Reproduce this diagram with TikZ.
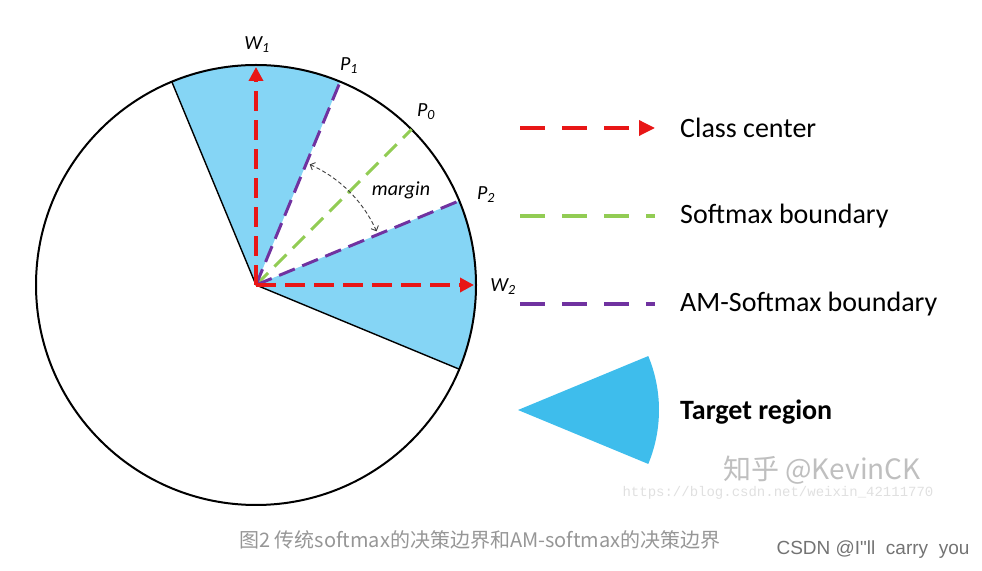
\documentclass[tikz,border=0pt]{standalone}
\usepackage{fontspec}
\setmainfont{Carlito}
\setsansfont{Liberation Sans}
\setmonofont{Liberation Mono}
\newfontfamily\cjk{Noto Sans CJK SC}
\usetikzlibrary{arrows.meta,calc,positioning}
\definecolor{sectorblue}{RGB}{133,213,245}
\definecolor{fanblue}{RGB}{62,189,236}
\definecolor{centerred}{RGB}{232,22,22}
\definecolor{softgreen}{RGB}{146,204,84}
\definecolor{ampurple}{RGB}{112,50,160}
\definecolor{capgray}{RGB}{150,150,150}
\tikzset{
  rim/.style     = {line width=2pt},
  edge/.style    = {line width=1.4pt},
  wvec/.style    = {centerred, line width=3.4pt, dash pattern=on 20pt off 9pt,
                    -{Triangle[length=14pt,width=14pt]}},
  sbound/.style  = {softgreen, line width=3pt, dash pattern=on 17pt off 9pt},
  ambound/.style = {ampurple, line width=3pt, dash pattern=on 17pt off 8pt},
  legline/.style = {line width=3.4pt, dash pattern=on 25pt off 17pt},
  mgarc/.style   = {black!75, line width=0.9pt, dash pattern=on 4pt off 2.5pt,
                    {Straight Barb[length=4pt]}-{Straight Barb[length=4pt]}},
  lbl/.style     = {font=\fontsize{20}{22}\selectfont\itshape, inner sep=1pt},
  legtxt/.style  = {font=\fontsize{28}{32}\selectfont, anchor=west, inner sep=0pt},
}

\begin{document}
\begin{tikzpicture}[x=1pt,y=1pt]
  \useasboundingbox (0,0) rectangle (982,570);
  \coordinate (O) at (256,285);
  \coordinate (a1) at ($(O)+(112.5:220pt)$);
  \coordinate (p1) at ($(O)+(67.5:220pt)$);
  \coordinate (p0) at ($(O)+(45:220pt)$);
  \coordinate (p2) at ($(O)+(22.5:220pt)$);
  \coordinate (a2) at ($(O)+(-22.5:220pt)$);
  \coordinate (w1tip) at ($(O)+(90:218pt)$);
  \coordinate (w2tip) at ($(O)+(0:218pt)$);
  % target regions
  \fill[sectorblue] (O) -- (p1) arc[start angle=67.5, end angle=112.5, radius=220pt] -- cycle;
  \fill[sectorblue] (O) -- (a2) arc[start angle=-22.5, end angle=22.5, radius=220pt] -- cycle;
  \draw[rim] (O) circle[radius=220pt];
  \draw[edge] (O) -- (a1);
  \draw[edge] (O) -- (a2);
  % boundaries
  \draw[sbound] (O) -- (p0);
  \draw[ambound] (O) -- (p1);
  \draw[ambound] (O) -- (p2);
  \draw[wvec] (O) -- (w1tip);
  \draw[wvec] (O) -- (w2tip);
  \draw[mgarc] ($(O)+(66:132pt)$) arc[start angle=66, end angle=24, radius=132pt];
  % labels
  \node[lbl] (w1) at (257,525) {W\textsubscript{1}};
  \node[lbl] (lp1) at (349,504) {P\textsubscript{1}};
  \node[lbl] (lp0) at (426,458) {P\textsubscript{0}};
  \node[lbl] (lp2) at (486,375) {P\textsubscript{2}};
  \node[lbl] (w2) at (503,283) {W\textsubscript{2}};
  \node[lbl] (mg) at (401,380) {margin};
  % legend
  \coordinate (cc0) at (520,442); \coordinate (cc1) at (655,442);
  \coordinate (sb0) at (520,354); \coordinate (sb1) at (655,354);
  \coordinate (ab0) at (520,266); \coordinate (ab1) at (655,266);
  \draw[legline, centerred, -{Triangle[length=16pt,width=15pt]}] (cc0) -- (cc1);
  \draw[legline, softgreen] (sb0) -- (sb1);
  \draw[legline, ampurple] (ab0) -- (ab1);
  \node[legtxt] (cc) at (680,442) {Class center};
  \node[legtxt] (sb) at (680,354) {Softmax boundary};
  \node[legtxt] (ab) at (680,266) {AM-Softmax boundary};
  \coordinate (fan) at (518,160);
  \fill[fanblue] (fan) -- ++(22.5:141pt) arc[start angle=22.5, end angle=-22.5, radius=141pt] -- cycle;
  \node[legtxt, font=\fontsize{28}{32}\selectfont\bfseries] (tr) at (680,158) {Target region};
  % marks and caption
  \node[text=black!25, font=\cjk\fontsize{28}{30}\selectfont] (zh) at (822,100) {知乎 @KevinCK};
  \node[text=black!12, font=\ttfamily\fontsize{14}{16}\selectfont] (url) at (778,77) {https://blog.csdn.net/weixin\_42111770};
  \node[text=capgray, font=\cjk\fontsize{20}{22}\selectfont] (cap) at (480,30) {图2 传统softmax的决策边界和AM-softmax的决策边界};
  \node[text=black!55, font=\sffamily\fontsize{19}{21}\selectfont] (csdn) at (873,20) {CSDN @I\textquotedbl ll\ \ carry\ \ you};
\end{tikzpicture}
\end{document}
